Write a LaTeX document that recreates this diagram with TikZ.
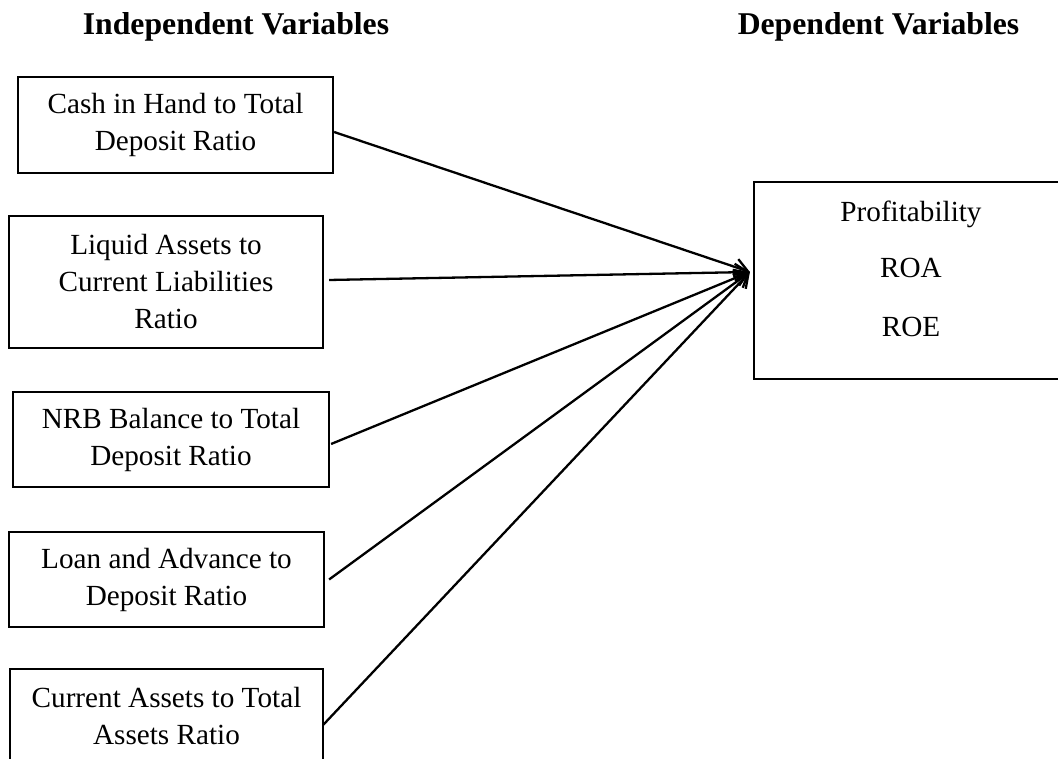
\documentclass[tikz,border=0pt]{standalone}
\usepackage{fontspec}
\setmainfont{Liberation Serif}
\usetikzlibrary{arrows.meta}
\begin{document}
\begin{tikzpicture}[x=1pt,y=1pt,
  varbox/.style={draw, line width=2.2pt, inner sep=0pt, align=center,
    font=\fontsize{29.2}{37}\selectfont},
  dvtext/.style={anchor=base, inner sep=0pt, font=\fontsize{29.2}{37}\selectfont},
  head/.style={anchor=base, inner sep=0pt, font=\fontsize{31.7}{38}\selectfont\bfseries},
  conn/.style={line width=2.3pt, -{Straight Barb[length=13pt,width=17pt,line width=2.3pt]}}
]
\useasboundingbox (0,0) rectangle (1058,759);
\clip (0,0) rectangle (1058,759);

% headings
\node[head] (hind) at (236,724) {Independent Variables};
\node[head] (hdep) at (878.5,724) {Dependent Variables};

% independent variable boxes
\node[varbox, minimum width=315, minimum height=96] (b1) at (175.5,634)
  {Cash in Hand to Total\\Deposit Ratio};
\node[varbox, minimum width=314, minimum height=132] (b2) at (166,477)
  {Liquid Assets to\\Current Liabilities\\Ratio};
\node[varbox, minimum width=316, minimum height=95] (b3) at (171,319.5)
  {NRB Balance to Total\\Deposit Ratio};
\node[varbox, minimum width=315, minimum height=95] (b4) at (166.5,179.5)
  {Loan and Advance to\\Deposit Ratio};
\node[varbox, minimum width=313, minimum height=95] (b5) at (166.5,42.5)
  {Current Assets to Total\\Assets Ratio};

% dependent variable box
\node[varbox, minimum width=314, minimum height=197] (dv) at (911,478.5) {};
\node[dvtext] (dvp) at (911,537) {Profitability};
\node[dvtext] (dva) at (911,481) {ROA};
\node[dvtext] (dve) at (911,422) {ROE};

\coordinate (tip) at ([xshift=-3pt,yshift=8.5pt]dv.west);

% connectors
\draw[conn] ([yshift=-7pt]b1.east) -- (tip);
\draw[conn] ([xshift=5pt,yshift=2pt]b2.east) -- (tip);
\draw[conn] ([xshift=1pt,yshift=-4.5pt]b3.east) -- (tip);
\draw[conn] ([xshift=4pt]b4.east) -- (tip);
\draw[conn] ([xshift=-1pt,yshift=-8.5pt]b5.east) -- (tip);
\end{tikzpicture}
\end{document}
